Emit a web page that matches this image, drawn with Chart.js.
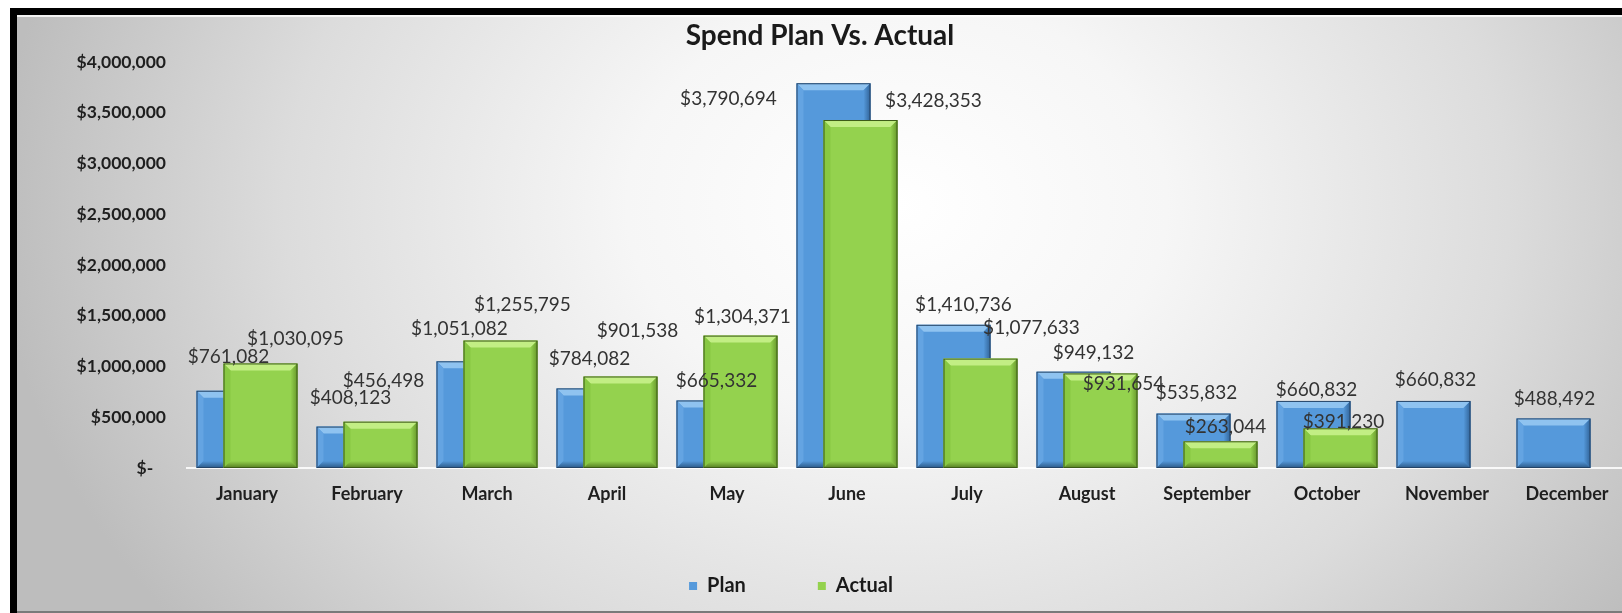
<!DOCTYPE html>
<html>
<head>
<meta charset="utf-8">
<title>Spend Plan Vs. Actual</title>
<script src="https://cdn.jsdelivr.net/npm/chart.js@4.4.1/dist/chart.umd.min.js"></script>
<style>
    html, body {
        margin: 0;
        padding: 0;
        background: #ffffff;
        width: 1622px;
        height: 613px;
        overflow: hidden;
    }
    #frame {
        position: absolute;
        left: 10px;
        top: 8px;
        width: 1620px;
        height: 605px;
        background: #000;
    }
    #chartBox {
        position: absolute;
        left: 17px;
        top: 15px;
        width: 1605px;
        height: 596px;
        overflow: hidden;
        border-bottom: 2px solid #7a7a7a;
        background: radial-gradient(ellipse 900px 700px at 880px 190px, #ffffff 0%, #f6f6f6 30%, #dcdcdc 68%, #bdbdbd 100%);
        box-shadow: inset 0 2px 0 rgba(255, 255, 255, 0.8);
    }
    #spendChart {
        position: absolute;
        left: -4px;
        top: 0;
    }
</style>
</head>
<body>
<div id="frame"></div>
<div id="chartBox">
    <canvas id="spendChart" width="1614" height="596"></canvas>
</div>

<script>
// Chart data
const months = ['January', 'February', 'March', 'April', 'May', 'June',
    'July', 'August', 'September', 'October', 'November', 'December'];
const planValues = [761082, 408123, 1051082, 784082, 665332, 3790694,
    1410736, 949132, 535832, 660832, 660832, 488492];
const actualValues = [1030095, 456498, 1255795, 901538, 1304371, 3428353,
    1077633, 931654, 263044, 391230, null, null];
const yTicks = [0, 500000, 1000000, 1500000, 2000000, 2500000, 3000000, 3500000, 4000000];

// Hand-placed label nudges (dx, dy from the top centre of each bar), like the original
const planLabelShift = [[-5, -34], [-3, -29], [-14, -32], [-4, -30], [3, -20], [-105, 16],
    [10, -20], [20, -19], [3, -21], [3, -11], [2, -21], [1, -20]];
const actualLabelShift = [[35, -25], [3, -41], [22, -36], [17, -46], [2, -19], [73, -19],
    [51, -31], [23, 10], [5, -14], [3, -6]];

const palettes = [
    { face: '#5599db', top: '#8fc3f0', left: '#64a4e2', right: '#316398', bottom: '#2b5886', edge: '#244467' },
    { face: '#94d24e', top: '#c2ee84', left: '#88c843', right: '#66972a', bottom: '#547c21', edge: '#3c5b17' }
];

const money = (v) => '$' + v.toLocaleString('en-US');

function poly(ctx, pts, fill) {
    ctx.beginPath();
    ctx.moveTo(pts[0][0], pts[0][1]);
    for (let i = 1; i < pts.length; i++) ctx.lineTo(pts[i][0], pts[i][1]);
    ctx.closePath();
    ctx.fillStyle = fill;
    ctx.fill();
}

// Excel-style bevel on every bar
const bevelPlugin = {
    id: 'bevel',
    afterDatasetDraw(chart, args) {
        const ctx = chart.ctx;
        const pal = palettes[args.index];
        ctx.save();
        args.meta.data.forEach((el) => {
            if (el.skip) return;
            const { x, y, base, width } = el.getProps(['x', 'y', 'base', 'width'], true);
            const w = Math.abs(width);
            const l = x - w / 2, r = x + w / 2;
            const t = Math.min(y, base), b = Math.max(y, base);
            const h = b - t;
            if (h < 1) return;
            const bv = Math.min(7, h / 2, w / 2);
            poly(ctx, [[l, t], [r, t], [r - bv, t + bv], [l + bv, t + bv]], pal.top);
            poly(ctx, [[l, t], [l + bv, t + bv], [l + bv, b - bv], [l, b]], pal.left);
            const gr = ctx.createLinearGradient(r - bv, 0, r, 0);
            gr.addColorStop(0, pal.face);
            gr.addColorStop(1, pal.right);
            poly(ctx, [[r, t], [r, b], [r - bv, b - bv], [r - bv, t + bv]], gr);
            const gb = ctx.createLinearGradient(0, b - bv, 0, b);
            gb.addColorStop(0, pal.face);
            gb.addColorStop(1, pal.bottom);
            poly(ctx, [[l, b], [r, b], [r - bv, b - bv], [l + bv, b - bv]], gb);
            ctx.strokeStyle = pal.edge;
            ctx.lineWidth = 1;
            ctx.strokeRect(l + 0.5, t + 0.5, w - 1, h - 1);
        });
        ctx.restore();
    }
};

// Value labels
const valueLabelPlugin = {
    id: 'valueLabels',
    afterDatasetsDraw(chart) {
        const ctx = chart.ctx;
        const shifts = [planLabelShift, actualLabelShift];
        ctx.save();
        ctx.font = '19px Lato';
        ctx.fillStyle = '#333333';
        ctx.textAlign = 'center';
        ctx.textBaseline = 'middle';
        chart.data.datasets.forEach((ds, di) => {
            const meta = chart.getDatasetMeta(di);
            meta.data.forEach((el, i) => {
                const v = ds.data[i];
                if (v === null || v === undefined) return;
                const s = shifts[di][i] || [0, -20];
                ctx.fillText(money(v), el.x + s[0], el.y + s[1]);
            });
        });
        ctx.restore();
    }
};

// Move the legend to where the original one sits
const legendShiftX = -29;
const legendShiftY = -2;
const legendNudgePlugin = {
    id: 'legendNudge',
    afterLayout(chart) {
        const lg = chart.legend;
        if (!lg) return;
        lg.left += legendShiftX;
        lg.right += legendShiftX;
        lg.top += legendShiftY;
        lg.bottom += legendShiftY;
    }
};

new Chart(document.getElementById('spendChart'), {
    type: 'bar',
    data: {
        labels: months,
        datasets: [{
            label: 'Plan',
            data: planValues,
            backgroundColor: palettes[0].face,
            borderWidth: 0,
            order: 1
        }, {
            label: 'Actual',
            data: actualValues,
            backgroundColor: palettes[1].face,
            borderWidth: 0,
            order: 0
        }]
    },
    options: {
        responsive: false,
        animation: false,
        // negative percentages flip the group so Plan sits left but is drawn under Actual
        categoryPercentage: -0.45,
        barPercentage: -2.74,
        layout: {
            padding: { left: 0, right: 0, top: 0, bottom: 3 }
        },
        scales: {
            x: {
                grid: { display: false, drawTicks: false },
                border: { display: true, color: 'rgba(255,255,255,0.85)', width: 2 },
                ticks: {
                    padding: 15,
                    color: '#1f1f1f',
                    font: { family: 'Lato', size: 18, weight: 'bold' },
                    maxRotation: 0,
                    autoSkip: false
                },
                afterFit: (scale) => { scale.height = 38; }
            },
            y: {
                min: 0,
                max: 4000000,
                afterBuildTicks: (scale) => {
                    scale.ticks = yTicks.map(v => ({ value: v }));
                },
                grid: { display: false, drawTicks: false },
                border: { display: false },
                ticks: {
                    padding: 21,
                    color: '#1f1f1f',
                    font: { family: 'Lato', size: 17.5, weight: 'bold' },
                    callback: (v) => v === 0 ? '$-   ' : money(v)
                },
                afterFit: (scale) => { scale.width = 174; }
            }
        },
        plugins: {
            title: {
                display: true,
                text: 'Spend Plan Vs. Actual',
                color: '#1a1a1a',
                font: { family: 'Lato', size: 28, weight: 'bold' },
                padding: { top: 4.2, bottom: 9.2 }
            },
            legend: {
                position: 'bottom',
                reverse: true,
                labels: {
                    boxWidth: 8,
                    boxHeight: 8,
                    padding: 72,
                    color: '#1a1a1a',
                    font: { family: 'Lato', size: 20, weight: 'bold' }
                }
            },
            tooltip: { enabled: false }
        }
    },
    plugins: [bevelPlugin, valueLabelPlugin, legendNudgePlugin]
});
</script>
</body>
</html>
